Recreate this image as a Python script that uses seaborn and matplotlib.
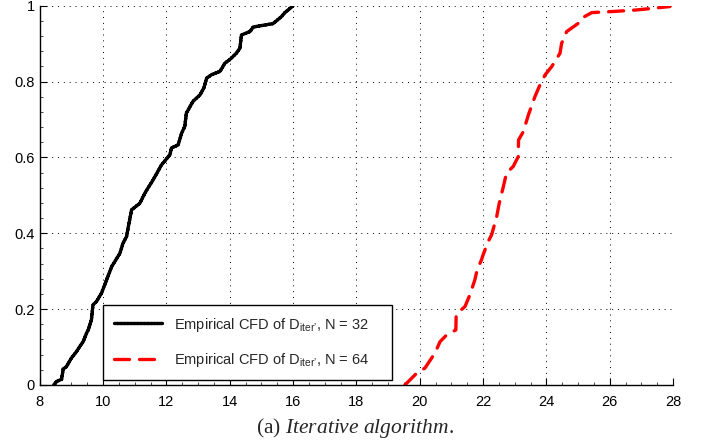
import pandas as pd
import seaborn as sns
import matplotlib.pyplot as plt
import numpy as np
from matplotlib.ticker import MultipleLocator

# Empirical CDF, N = 32
x_n32 = [8.44, 8.53, 8.69, 8.74, 8.84, 9.00, 9.16, 9.26, 9.37, 9.48, 9.53, 9.63,
         9.68, 9.79, 9.95, 10.11, 10.27, 10.53, 10.63, 10.74, 10.82, 10.90, 11.16,
         11.32, 11.58, 11.79, 11.84, 12.11, 12.16, 12.37, 12.48, 12.58, 12.63, 12.84,
         13.06, 13.18, 13.27, 13.42, 13.69, 13.85, 14.00, 14.21, 14.32, 14.37, 14.64,
         14.74, 15.37, 15.64, 15.74, 16.00]
y_n32 = [0.0, 0.009, 0.015, 0.042, 0.048, 0.071, 0.088, 0.101, 0.114, 0.137, 0.145, 0.171,
         0.211, 0.22, 0.242, 0.277, 0.312, 0.347, 0.374, 0.391, 0.427, 0.462, 0.479,
         0.506, 0.541, 0.572, 0.58, 0.607, 0.625, 0.633, 0.664, 0.682, 0.717, 0.748,
         0.765, 0.783, 0.809, 0.818, 0.827, 0.849, 0.858, 0.875, 0.888, 0.923, 0.932,
         0.944, 0.953, 0.972, 0.982, 1.0]

# Empirical CDF, N = 64
x_n64 = [19.53, 19.69, 19.95, 20.16, 20.48, 20.64, 20.85, 21.14, 21.15, 21.27, 21.43,
         21.58, 21.74, 21.81, 21.95, 22.00, 22.16, 22.27, 22.43, 22.51, 22.64, 22.74,
         22.95, 23.11, 23.12, 23.27, 23.43, 23.64, 23.80, 23.96, 24.17, 24.43, 24.48,
         24.64, 25.01, 25.11, 25.43, 26.12, 26.85, 27.90]
y_n64 = [0.0, 0.013, 0.035, 0.044, 0.084, 0.114, 0.132, 0.145, 0.185, 0.195, 0.207,
         0.237, 0.277, 0.303, 0.33, 0.343, 0.378, 0.396, 0.444, 0.479, 0.523, 0.559,
         0.576, 0.602, 0.646, 0.668, 0.712, 0.761, 0.792, 0.818, 0.84, 0.875, 0.901,
         0.932, 0.954, 0.967, 0.982, 0.985, 0.989, 0.998]

labels = ["Empirical CFD of D$_{iter\u2019}$, N = 32",
          "Empirical CFD of D$_{iter\u2019}$, N = 64"]

df = pd.concat([
    pd.DataFrame({'x': x_n32, 'y': y_n32, 'series': labels[0]}),
    pd.DataFrame({'x': x_n64, 'y': y_n64, 'series': labels[1]}),
], ignore_index=True)

sns.set_style("white")
plt.rcParams['font.family'] = ['Liberation Sans', 'DejaVu Sans']
plt.rcParams['mathtext.default'] = 'regular'
plt.rcParams['mathtext.fontset'] = 'custom'
plt.rcParams['mathtext.it'] = 'Liberation Serif:italic'
plt.rcParams['mathtext.rm'] = 'Liberation Serif'

fig = plt.figure(figsize=(7.1, 4.45), dpi=100)
ax = fig.add_axes([0.056, 0.135, 0.892, 0.852])

sns.lineplot(data=df, x='x', y='y', hue='series', style='series',
             palette=['black', 'red'], dashes=[(1, 0), (4.5, 3)],
             sort=False, estimator=None, linewidth=2.4, ax=ax,
             solid_joinstyle='round', dash_capstyle='round', dash_joinstyle='round')

ax.set_xlim(8, 28)
ax.set_ylim(0, 1)
ax.xaxis.set_major_locator(MultipleLocator(2))
ax.yaxis.set_major_locator(MultipleLocator(0.2))
ax.xaxis.set_minor_locator(MultipleLocator(0.5))
ax.yaxis.set_minor_locator(MultipleLocator(0.04))
ax.set_xticklabels([f"{v:g}" for v in ax.get_xticks()])
ax.set_yticklabels([f"{v:g}" for v in ax.get_yticks()])
ax.tick_params(which='major', direction='in', length=5, width=0.8, labelsize=10.5,
               bottom=True, left=True, colors='black')
ax.tick_params(axis='x', which='major', pad=7)
ax.tick_params(which='minor', direction='in', length=2.5, width=0.5,
               bottom=True, left=True, colors='black')
ax.set_xlabel('')
ax.set_ylabel('')

ax.grid(True, which='major', color='black', linestyle=(0, (1, 5)), linewidth=0.7)
ax.set_axisbelow(True)
for side in ['top', 'right']:
    ax.spines[side].set_visible(False)
for side in ['left', 'bottom']:
    ax.spines[side].set_color('black')
    ax.spines[side].set_linewidth(1.0)

leg = ax.legend(loc='lower left', bbox_to_anchor=(0.0995, 0.013, 0.4565, 0.195),
                mode='expand', fontsize=10.5, handlelength=3.3, frameon=True,
                fancybox=False, edgecolor='black', framealpha=1,
                borderaxespad=0, labelspacing=1.2, borderpad=0.75)
leg.get_frame().set_linewidth(1.0)

fig.text(0.5, 0.038, r"(a) $\mathit{Iterative\ algorithm.}$", ha='center', va='center',
         fontsize=15.5, family='Liberation Serif')

plt.savefig('out.png', dpi=100)
